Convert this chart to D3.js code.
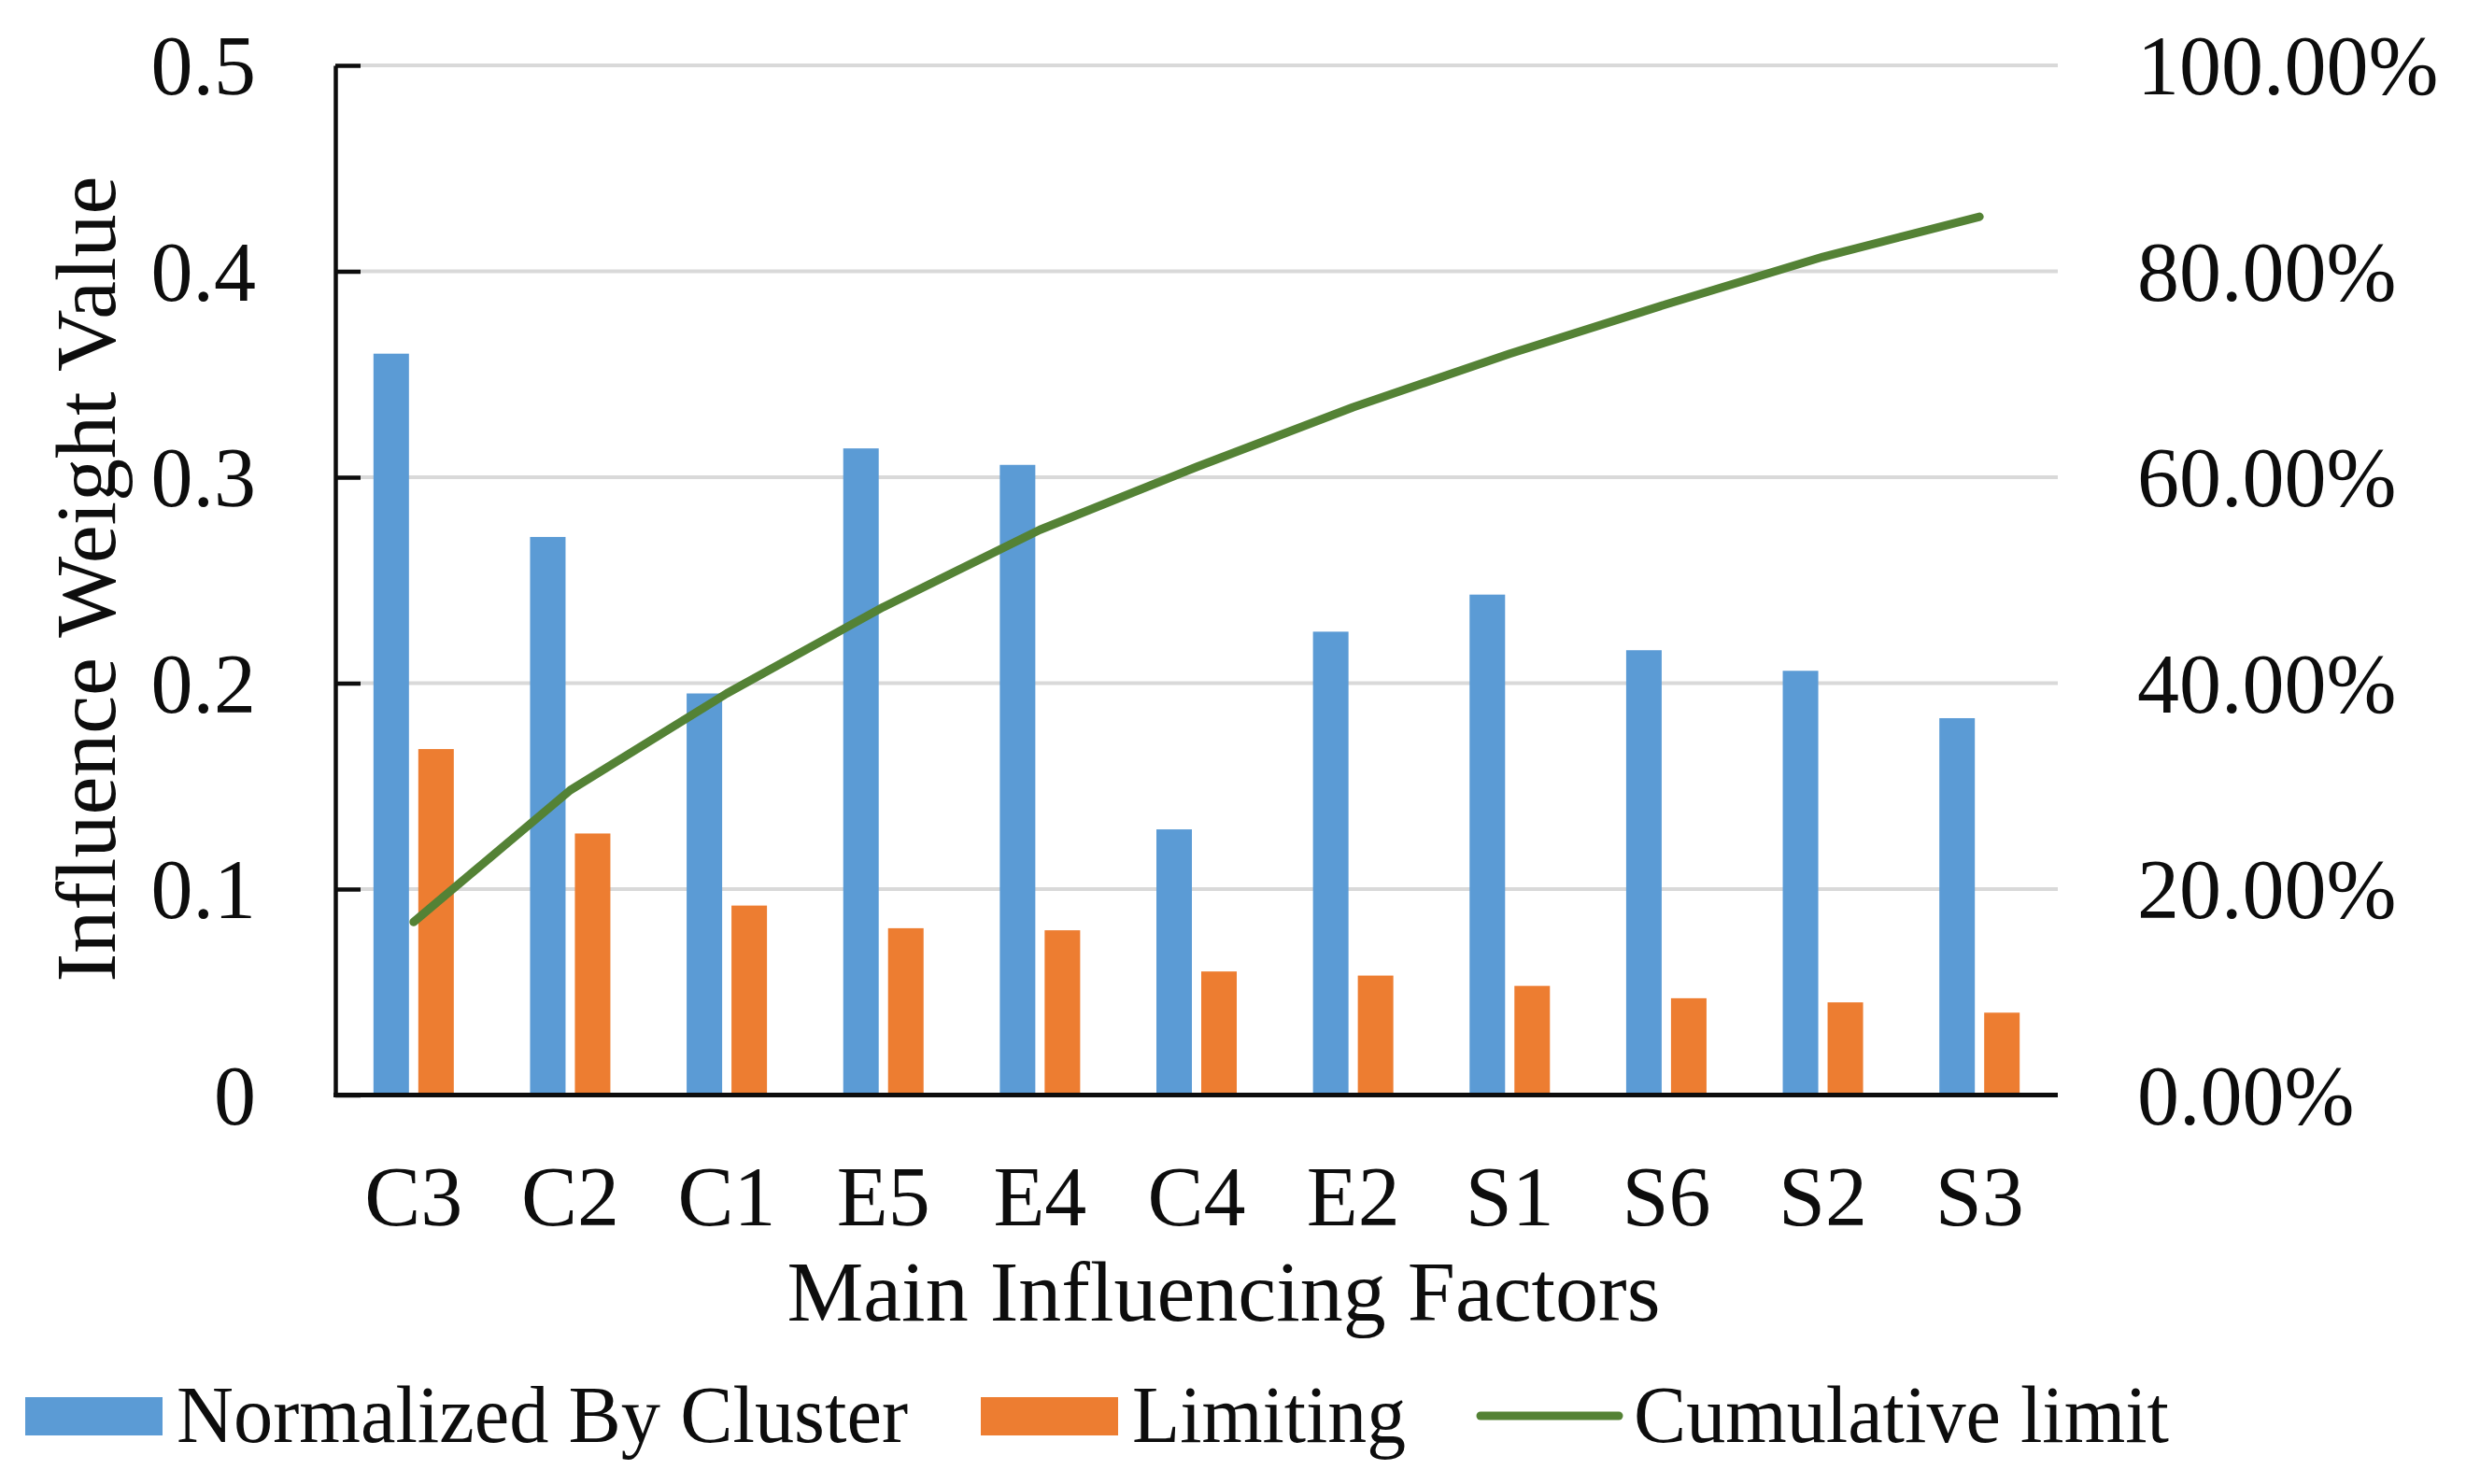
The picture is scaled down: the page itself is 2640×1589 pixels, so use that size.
<!DOCTYPE html>
<html>
<head>
<meta charset="utf-8">
<script src="https://cdn.jsdelivr.net/npm/d3@7/dist/d3.min.js"></script>
<style>
  html, body { margin: 0; padding: 0; background: #ffffff; }
  svg { display: block; }
  text { font-family: "Liberation Serif", "Times New Roman", serif; fill: #0d0d0d; }
</style>
</head>
<body>
<svg id="chart" width="2640" height="1589"></svg>
<script>
// ---- data ----
const categories = ["C3", "C2", "C1", "E5", "E4", "C4", "E2", "S1", "S6", "S2", "S3"];
const normalizedByCluster = [0.360, 0.271, 0.195, 0.314, 0.306, 0.129, 0.225, 0.243, 0.216, 0.206, 0.183];
const limiting = [0.168, 0.127, 0.092, 0.081, 0.080, 0.060, 0.058, 0.053, 0.047, 0.045, 0.040];
const cumulativeLimit = [0.168, 0.296, 0.390, 0.474, 0.549, 0.610, 0.668, 0.720, 0.768, 0.814, 0.853];
const leftTicks = [0, 0.1, 0.2, 0.3, 0.4, 0.5];
const rightTicks = [0, 0.2, 0.4, 0.6, 0.8, 1.0];
const seriesNames = ["Normalized By Cluster", "Limiting"];
const seriesColors = ["#5b9bd5", "#ed7d31"];
const lineColor = "#548235";

(function () {
// ---- layout ----
const svg = d3.select("#chart");
const pLeft = 359, pRight = 2203, pTop = 70, pBottom = 1172.5;
const serif = "'Liberation Serif', 'Times New Roman', serif";

const x = d3.scaleBand().domain(categories).range([pLeft, pRight])
  .paddingInner(0.487).paddingOuter(0.2435);
const x1 = d3.scaleBand().domain(seriesNames).range([0, x.bandwidth()]).paddingInner(0.2083);
const y = d3.scaleLinear().domain([0, 0.5]).range([pBottom, pTop]);
const y2 = d3.scaleLinear().domain([0, 1]).range([pBottom, pTop]);

// gridlines
svg.append("g").selectAll("line").data(leftTicks.filter(d => d > 0)).join("line")
  .attr("x1", pLeft).attr("x2", pRight)
  .attr("y1", d => y(d)).attr("y2", d => y(d))
  .attr("stroke", "#d9d9d9").attr("stroke-width", 4);

// bars
const rows = categories.map((c, i) => ({ c, vals: [normalizedByCluster[i], limiting[i]] }));
const groups = svg.append("g").selectAll("g").data(rows).join("g")
  .attr("transform", d => `translate(${x(d.c)},0)`);
groups.selectAll("rect").data(d => d.vals.map((v, k) => ({ v, k }))).join("rect")
  .attr("x", d => x1(seriesNames[d.k]))
  .attr("width", x1.bandwidth())
  .attr("y", d => y(d.v))
  .attr("height", d => pBottom - y(d.v))
  .attr("fill", d => seriesColors[d.k]);

// left axis
const gL = svg.append("g").attr("transform", `translate(${pLeft},0)`)
  .call(d3.axisLeft(y).tickValues(leftTicks).tickFormat(d => d === 0 ? "0" : d3.format(".1f")(d))
    .tickSizeInner(-27).tickSizeOuter(0).tickPadding(85));
gL.select(".domain").attr("stroke", "#0d0d0d").attr("stroke-width", 4.5);
gL.selectAll(".tick line").attr("stroke", "#0d0d0d").attr("stroke-width", 4.5);
gL.selectAll(".tick text").attr("font-size", 90).attr("dy", "0.34em")
  .style("font-family", serif).attr("fill", "#0d0d0d");

// right axis
const gR = svg.append("g").attr("transform", `translate(${pRight},0)`)
  .call(d3.axisRight(y2).tickValues(rightTicks).tickFormat(d3.format(".2%"))
    .tickSize(0).tickPadding(85));
gR.select(".domain").remove();
gR.selectAll(".tick text").attr("font-size", 90).attr("dy", "0.34em")
  .style("font-family", serif).attr("fill", "#0d0d0d");

// bottom axis
const gB = svg.append("g").attr("transform", `translate(0,${pBottom})`)
  .call(d3.axisBottom(x).tickSize(0).tickPadding(0));
gB.select(".domain").attr("stroke", "#0d0d0d").attr("stroke-width", 5)
  .attr("d", `M${pLeft - 2},0H${pRight}`);
gB.selectAll(".tick text").attr("font-size", 90).attr("dy", null).attr("y", 139.5)
  .style("font-family", serif).attr("fill", "#0d0d0d");

// cumulative line
const line = d3.line()
  .x((d, i) => x(categories[i]) + x.bandwidth() / 2)
  .y(d => y2(d));
svg.append("path").datum(cumulativeLimit)
  .attr("d", line)
  .attr("fill", "none").attr("stroke", lineColor).attr("stroke-width", 9)
  .attr("stroke-linecap", "round").attr("stroke-linejoin", "round");

// axis titles
svg.append("text").attr("x", 1310).attr("y", 1414)
  .attr("text-anchor", "middle").attr("font-size", 92).text("Main Influencing Factors");
svg.append("text").attr("transform", `translate(123,620) rotate(-90)`)
  .attr("text-anchor", "middle").attr("font-size", 92).text("Influence Weight Value");

// legend
const legend = svg.append("g");
legend.append("rect").attr("x", 27).attr("y", 1496).attr("width", 147).attr("height", 41).attr("fill", seriesColors[0]);
legend.append("text").attr("x", 189).attr("y", 1544).attr("font-size", 86)
  .attr("textLength", 783).attr("lengthAdjust", "spacingAndGlyphs").text(seriesNames[0]);
legend.append("rect").attr("x", 1050).attr("y", 1496).attr("width", 147).attr("height", 41).attr("fill", seriesColors[1]);
legend.append("text").attr("x", 1212).attr("y", 1544).attr("font-size", 86)
  .attr("textLength", 293).attr("lengthAdjust", "spacingAndGlyphs").text(seriesNames[1]);
legend.append("line").attr("x1", 1585).attr("x2", 1733).attr("y1", 1516).attr("y2", 1516)
  .attr("stroke", lineColor).attr("stroke-width", 9).attr("stroke-linecap", "round");
legend.append("text").attr("x", 1749).attr("y", 1544).attr("font-size", 86)
  .attr("textLength", 573).attr("lengthAdjust", "spacingAndGlyphs").text("Cumulative limit");
})();
</script>
</body>
</html>
